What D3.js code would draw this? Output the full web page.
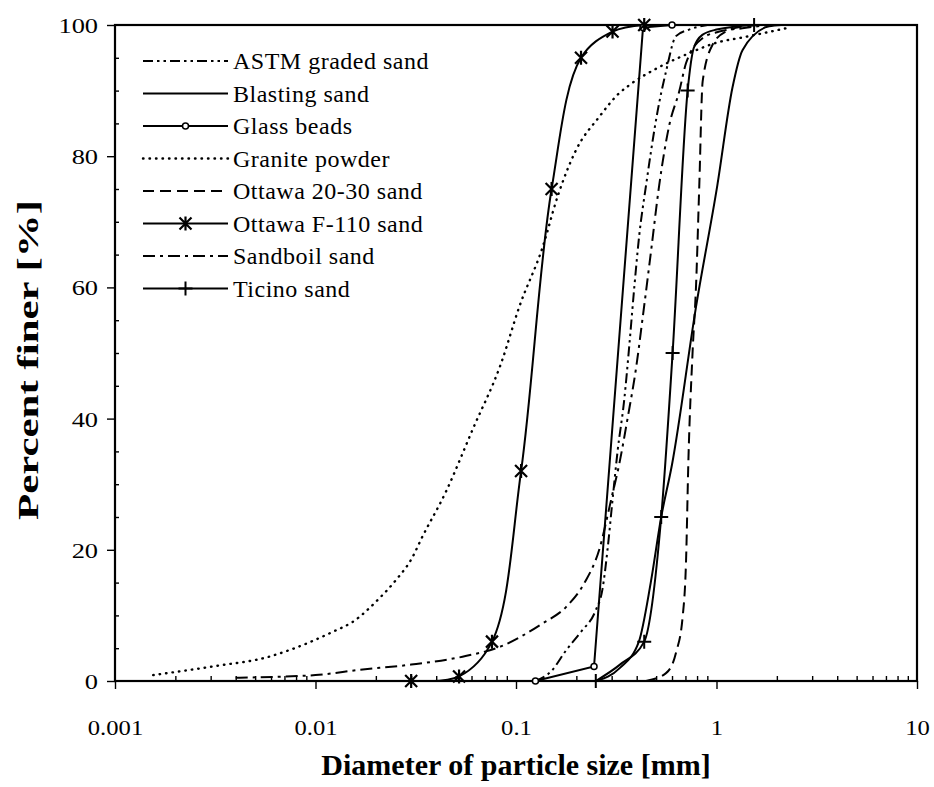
<!DOCTYPE html>
<html><head><meta charset="utf-8">
<script src="https://cdn.jsdelivr.net/npm/d3@7"></script>
<style>
body{margin:0;background:#fff;}
svg text{font-family:"Liberation Serif","Times New Roman",serif;fill:#000;}
</style></head><body>
<svg id="chart" width="934" height="787"></svg>
<script>
// ---------- data ----------
const xTicks = [0.001, 0.01, 0.1, 1, 10];
const xTickLabels = ["0.001", "0.01", "0.1", "1", "10"];
const yTicks = [0, 20, 40, 60, 80, 100];
const yTickLabels = ["0", "20", "40", "60", "80", "100"];
const xTitle = "Diameter of particle size [mm]";
const yTitle = "Percent finer [%]";
const seriesNames = ["ASTM graded sand", "Blasting sand", "Glass beads", "Granite powder",
  "Ottawa 20-30 sand", "Ottawa F-110 sand", "Sandboil sand", "Ticino sand"];

// curve points (diameter mm, percent finer)
const astmD = [0.125,0.15,0.178,0.211,0.25,0.27,0.286,0.303,0.321,0.347,0.367,0.389,0.412,0.445,0.508,0.56,0.628,0.73,0.9];
const astmP = [0,1.5,4.7,7.5,10.8,14,20,27.6,35,43,51,60,68,75.5,86.8,92.9,98.3,99.3,100];

const blastD = [0.25,0.33,0.41,0.47,0.53,0.6,0.79,1.01,1.2,1.35,1.83,2.1];
const blastP = [0,2,6,15,25,33,57,75.6,90.4,96.2,99.8,100];

const glassD = [0.125,0.245,0.43,0.6];
const glassP = [0,2.2,99.6,100];

const graniteD = [0.00155,0.0032,0.0057,0.0074,0.0122,0.0153,0.0208,0.0252,0.0305,0.0335,0.0448,0.0607,0.0842,0.104,0.136,0.161,0.199,0.26,0.327,0.37,0.519,0.705,1.0,1.4,2.0,2.3];
const graniteP = [0.9,2.3,3.6,4.7,7.5,9,12.6,15.4,18.9,21.5,28.9,38.3,48.4,57.1,66.2,73.8,80.9,86,89.6,90.9,93.6,95.5,97.3,98.2,99.2,99.6];

const ott2030D = [0.445,0.56,0.628,0.678,0.705,0.724,0.76,0.791,0.82,0.853,0.956,1.114,1.38,1.7];
const ott2030P = [0,1.2,4.3,9.8,18.4,33.5,50.2,60.4,75.2,91.4,97,99,99.8,100];

const f110D = [0.03,0.052,0.0759,0.106,0.1505,0.211,0.303,0.436];
const f110P = [0,0.7,6,32,75,95,99,100];

const sandD = [0.004,0.01,0.0165,0.03,0.056,0.083,0.136,0.178,0.22,0.26,0.3,0.327,0.36,0.397,0.428,0.471,0.518,0.582,0.652,0.705,0.853,1.033,1.345,1.8];
const sandP = [0.5,0.9,1.7,2.5,3.8,5.2,8.8,11.3,15,20,28,33,40,47.7,55.3,65.4,75.6,84.8,89.9,94.2,98,99,99.5,100];

const ticinoD = [0.25,0.33,0.436,0.53,0.604,0.718,0.77,0.85,1.0,1.54];
const ticinoP = [0,2.5,6,25,50,90,96.5,98.5,99.3,100];

// marker points
const glassMarkD = [0.125,0.245,0.43,0.6];
const glassMarkP = [0,2.2,99.6,100];
const f110MarkD = [0.03,0.052,0.0759,0.106,0.1505,0.211,0.303,0.436];
const f110MarkP = [0,0.7,6,32,75,95,99,100];
const ticinoMarkD = [0.25,0.436,0.53,0.604,0.718,1.54];
const ticinoMarkP = [0,6,25,50,90,100];

// ---------- styles ----------
const dashes = ["10,4,2.5,4,2.5,4", null, null, "0.5,6", "11,6", null, "12,5,3,5", null];
const markers = [null, null, "circle", null, null, "asterisk", null, "plus"];
const curves = ["mono","mono","linear","mono","mono","cr","mono","mono"];
const allD = [astmD, blastD, glassD, graniteD, ott2030D, f110D, sandD, ticinoD];
const allP = [astmP, blastP, glassP, graniteP, ott2030P, f110P, sandP, ticinoP];
const markD = [null, null, glassMarkD, null, null, f110MarkD, null, ticinoMarkD];
const markP = [null, null, glassMarkP, null, null, f110MarkP, null, ticinoMarkP];

const svg = d3.select("#chart");
const L = 115, R = 917, T = 25, B = 681;
const x = d3.scaleLog().domain([0.001, 10]).range([L, R]);
const y = d3.scaleLinear().domain([0, 100]).range([B, T]);

svg.append("defs").append("clipPath").attr("id","clip")
  .append("rect").attr("x", L).attr("y", T - 4).attr("width", R - L).attr("height", B - T + 4);

// minor ticks
const xMinor = [];
for (let e = -3; e < 1; e++) for (let k = 2; k <= 9; k++) xMinor.push(k * Math.pow(10, e));
const yMinor = d3.range(5, 100, 5).filter(v => v % 20 !== 0);

const gxm = svg.append("g").attr("transform", `translate(0,${B})`)
  .call(d3.axisBottom(x).tickValues(xMinor).tickSize(-5).tickFormat(""));
gxm.select(".domain").remove();
const gym = svg.append("g").attr("transform", `translate(${L},0)`)
  .call(d3.axisLeft(y).tickValues(yMinor).tickSize(-4).tickFormat(""));
gym.select(".domain").remove();

const gx = svg.append("g").attr("transform", `translate(0,${B})`)
  .call(d3.axisBottom(x).tickValues(xTicks).tickSize(8).tickFormat((d, i) => xTickLabels[i]));
gx.select(".domain").remove();
gx.selectAll("text").attr("y", 54).attr("dy", 0).attr("font-size", 22)
  .attr("transform", "scale(1.12,1)")
  .style("font-family", "Liberation Serif");

const gy = svg.append("g").attr("transform", `translate(${L},0)`)
  .call(d3.axisLeft(y).tickValues(yTicks).tickSize(8).tickFormat((d, i) => yTickLabels[i]));
gy.select(".domain").remove();
gy.selectAll("text").attr("x", -17 / 1.2).attr("dy", "0.34em").attr("font-size", 22)
  .attr("transform", "scale(1.2,1)")
  .style("font-family", "Liberation Serif");

svg.selectAll(".tick line").attr("stroke", "#000").attr("stroke-width", 1.4);

// frame
svg.append("rect").attr("x", L).attr("y", T).attr("width", R - L).attr("height", B - T)
  .attr("fill", "none").attr("stroke", "#000").attr("stroke-width", 2.2);

// marker drawing
function drawMarker(g, type, cx, cy) {
  if (type === "circle") {
    g.append("circle").attr("cx", cx).attr("cy", cy).attr("r", 3)
      .attr("fill", "#fff").attr("stroke", "#000").attr("stroke-width", 1.5);
  } else if (type === "asterisk") {
    g.append("path").attr("d", `M${cx-6},${cy-6}L${cx+6},${cy+6}M${cx-6},${cy+6}L${cx+6},${cy-6}M${cx},${cy-7}L${cx},${cy+7}`)
      .attr("stroke", "#000").attr("stroke-width", 2.2).attr("fill", "none");
  } else if (type === "plus") {
    g.append("path").attr("d", `M${cx-7},${cy}L${cx+7},${cy}M${cx},${cy-7}L${cx},${cy+7}`)
      .attr("stroke", "#000").attr("stroke-width", 2).attr("fill", "none");
  }
}

const plotG = svg.append("g").attr("clip-path", "url(#clip)");
seriesNames.forEach((name, i) => {
  const pts = allD[i].map((d, j) => [d, allP[i][j]]);
  const cv = curves[i] === "mono" ? d3.curveMonotoneX : curves[i] === "cr" ? d3.curveCatmullRom.alpha(0.5) : d3.curveLinear;
  const line = d3.line().x(p => x(p[0])).y(p => y(p[1])).curve(cv);
  const path = plotG.append("path").datum(pts).attr("d", line)
    .attr("fill", "none").attr("stroke", "#000")
    .attr("stroke-width", i === 3 ? 2.4 : 2)
    .attr("stroke-linecap", i === 3 ? "round" : "butt");
  if (dashes[i]) path.attr("stroke-dasharray", dashes[i]);
});
const markG = svg.append("g");
seriesNames.forEach((name, i) => {
  if (!markers[i]) return;
  markD[i].forEach((d, j) => drawMarker(markG, markers[i], x(d), y(markP[i][j])));
});

// legend
const legG = svg.append("g");
const legX0 = 143, legX1 = 228, legY0 = 61, legDy = 32.5;
seriesNames.forEach((name, i) => {
  const ly = legY0 + i * legDy;
  const l = legG.append("line").attr("x1", legX0).attr("x2", legX1).attr("y1", ly).attr("y2", ly)
    .attr("stroke", "#000").attr("stroke-width", i === 3 ? 2.4 : 2)
    .attr("stroke-linecap", i === 3 ? "round" : "butt");
  if (dashes[i]) l.attr("stroke-dasharray", dashes[i]);
  if (markers[i]) drawMarker(legG, markers[i], (legX0 + legX1) / 2, ly);
  legG.append("text").attr("x", 233).attr("y", ly + 8).attr("font-size", 24)
    .attr("letter-spacing", "0.5px").text(name);
});

// titles
svg.append("text").attr("x", (L + R) / 2).attr("y", 775).attr("text-anchor", "middle")
  .attr("font-size", 30).attr("font-weight", "bold").text(xTitle);
svg.append("text").attr("transform", `translate(38,360) rotate(-90)`)
  .attr("text-anchor", "middle").attr("font-size", 30).attr("font-weight", "bold")
  .attr("textLength", 320).attr("lengthAdjust", "spacingAndGlyphs").text(yTitle);
</script>
</body></html>
